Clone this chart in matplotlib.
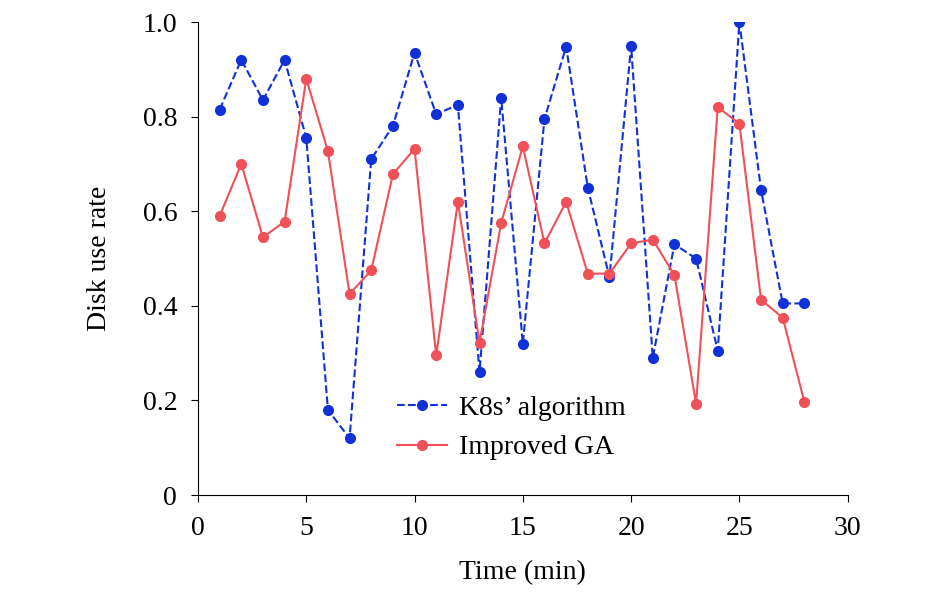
import matplotlib

matplotlib.use("Agg")
import matplotlib.pyplot as plt

time_min = list(range(1, 29))
k8s_rate = [0.815, 0.92, 0.835, 0.92, 0.755, 0.18, 0.12, 0.71, 0.78, 0.935,
            0.805, 0.825, 0.26, 0.84, 0.32, 0.795, 0.948, 0.65, 0.46, 0.95,
            0.29, 0.53, 0.50, 0.305, 1.0, 0.645, 0.405, 0.405]
ga_rate = [0.59, 0.70, 0.545, 0.578, 0.88, 0.727, 0.425, 0.475, 0.678, 0.732,
           0.295, 0.62, 0.322, 0.575, 0.737, 0.532, 0.62, 0.468, 0.468, 0.532,
           0.54, 0.465, 0.193, 0.82, 0.785, 0.413, 0.375, 0.197]

plt.rcParams["font.family"] = ["Liberation Serif", "DejaVu Serif"]
plt.rcParams["font.size"] = 20

fig = plt.figure(figsize=(9.45, 6.05), dpi=100)
ax = fig.add_axes([0.2095, 0.1818, 0.6875, 0.7818])
ax.plot(time_min, k8s_rate, "--o", color="#1030d8", lw=1.5, ms=7, label="K8s\u2019 algorithm")
ax.plot(time_min, ga_rate, "-o", color="#f05058", lw=1.5, ms=7, label="Improved GA")
ax.set_xlim(0, 30)
ax.set_ylim(0, 1.0)
ax.set_xticks([0, 5, 10, 15, 20, 25, 30])
ax.set_yticks([0, 0.2, 0.4, 0.6, 0.8, 1.0])
ax.set_yticklabels(["0", "0.2", "0.4", "0.6", "0.8", "1.0"])
ax.spines["top"].set_visible(False)
ax.spines["right"].set_visible(False)
ax.tick_params(direction="out", length=5, pad=10)
ax.set_xlabel("Time (min)", labelpad=14)
ax.set_ylabel("Disk use rate", labelpad=22)
ax.legend(loc="lower left", bbox_to_anchor=(0.29, 0.05), frameon=False,
          handlelength=1.8, handletextpad=0.4, borderaxespad=0)
fig.savefig("out.png", dpi=100)
